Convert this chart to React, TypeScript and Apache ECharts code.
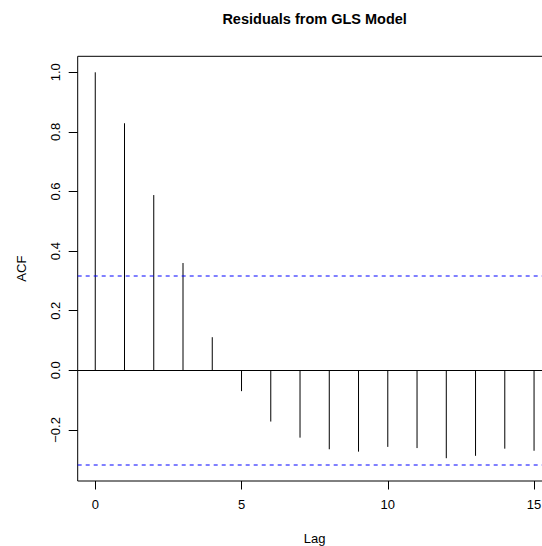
import React, { useEffect, useRef } from "react";
import * as echarts from "echarts";

const lags = [0, 1, 2, 3, 4, 5, 6, 7, 8, 9, 10, 11, 12, 13, 14, 15];
const acfValues = [1.0, 0.829, 0.588, 0.36, 0.111, -0.07, -0.172, -0.226, -0.265, -0.273, -0.257, -0.261, -0.295, -0.287, -0.263, -0.27];
const confBound = 0.318;
const confLevels = [confBound, -confBound];
const xTicks = [0, 5, 10, 15];
const yTicks = [-0.2, 0.0, 0.2, 0.4, 0.6, 0.8, 1.0];
const titleText = "Residuals from GLS Model";
const xLabel = "Lag";
const yLabel = "ACF";

const FONT = "'Liberation Sans', Arial, Helvetica, sans-serif";
const X_MIN = -0.6;
const X_MAX = 15.6;

const crisp = (v: number) => Math.floor(v) + 0.5;

export default function App() {
  const ref = useRef<HTMLDivElement>(null);
  useEffect(() => {
    if (!ref.current) return;
    document.body.style.margin = "0";
    const chart = echarts.init(ref.current, null, { renderer: "svg" });
    const gridLeft = 77.7;
    const gridTop = 56.3;
    const gridW = 473.9;
    const gridH = 424.7;
    const cx = gridLeft + gridW / 2;
    const cy = gridTop + gridH / 2;
    chart.setOption({
      animation: false,
      grid: {
        left: gridLeft,
        top: gridTop,
        width: gridW,
        height: gridH,
        show: true,
        borderColor: "#000",
        borderWidth: 1,
        backgroundColor: "transparent",
      },
      xAxis: {
        type: "value",
        min: X_MIN,
        max: X_MAX,
        axisLine: { show: false, onZero: false },
        splitLine: { show: false },
        axisTick: { show: true, length: 8.5, customValues: xTicks, lineStyle: { color: "#000" } },
        axisLabel: {
          customValues: xTicks,
          margin: 17,
          fontSize: 13,
          fontFamily: FONT,
          color: "#000",
          formatter: (v: number) => String(v),
        },
      },
      yAxis: {
        type: "value",
        min: -0.3715,
        max: 1.0537,
        axisLine: { show: false, onZero: false },
        splitLine: { show: false },
        axisTick: { show: true, length: 9, customValues: yTicks, lineStyle: { color: "#000" } },
        axisLabel: {
          customValues: yTicks,
          rotate: 90,
          margin: 16,
          fontSize: 13,
          fontFamily: FONT,
          color: "#000",
          formatter: (v: number) => {
            const s = Math.abs(v).toFixed(1);
            return v < -1e-9 ? "\u2212" + s : s;
          },
        },
      },
      graphic: [
        {
          type: "text",
          x: cx,
          y: 18.5,
          style: {
            text: titleText,
            fontSize: 14.5,
            fontWeight: "bold",
            fontFamily: FONT,
            fill: "#000",
            align: "center",
            verticalAlign: "middle",
          },
        },
        {
          type: "text",
          x: cx,
          y: 538,
          style: {
            text: xLabel,
            fontSize: 13,
            fontFamily: FONT,
            fill: "#000",
            align: "center",
            verticalAlign: "middle",
          },
        },
        {
          type: "text",
          x: 21,
          y: cy,
          rotation: Math.PI / 2,
          style: {
            text: yLabel,
            fontSize: 13,
            fontFamily: FONT,
            fill: "#000",
            align: "center",
            verticalAlign: "middle",
          },
        },
      ],
      series: [
        {
          type: "custom",
          name: "zero",
          data: [[0, 0]],
          silent: true,
          renderItem: (params: any, api: any) => {
            const cs = params.coordSys;
            const p = api.coord([api.value(0), api.value(1)]);
            const y = crisp(p[1]);
            return {
              type: "line",
              shape: { x1: cs.x, y1: y, x2: cs.x + cs.width, y2: y },
              style: { stroke: "#000000", lineWidth: 1 },
            };
          },
          z: 1,
        },
        {
          type: "custom",
          name: "conf",
          data: confLevels.map((y) => [0, y]),
          silent: true,
          renderItem: (params: any, api: any) => {
            const cs = params.coordSys;
            const p = api.coord([api.value(0), api.value(1)]);
            const y = Math.round(p[1]);
            return {
              type: "line",
              shape: { x1: cs.x, y1: y, x2: cs.x + cs.width, y2: y },
              style: { stroke: "#0000ff", lineWidth: 1, lineDash: [4, 4] },
            };
          },
          z: 3,
        },
        {
          type: "custom",
          name: "acf",
          data: lags.map((l, i) => [l, acfValues[i]]),
          silent: true,
          renderItem: (params: any, api: any) => {
            const p0 = api.coord([api.value(0), 0]);
            const p1 = api.coord([api.value(0), api.value(1)]);
            return {
              type: "line",
              shape: { x1: p0[0], y1: crisp(p0[1]), x2: p1[0], y2: p1[1] },
              style: { stroke: "#000000", lineWidth: 1 },
            };
          },
          z: 2,
        },
      ],
    });
    return () => chart.dispose();
  }, []);
  return (
    <div style={{ position: "absolute", left: 0, top: 0, width: 542, height: 546, overflow: "hidden" }}>
      <div ref={ref} style={{ width: 560, height: 546 }} />
    </div>
  );
}
